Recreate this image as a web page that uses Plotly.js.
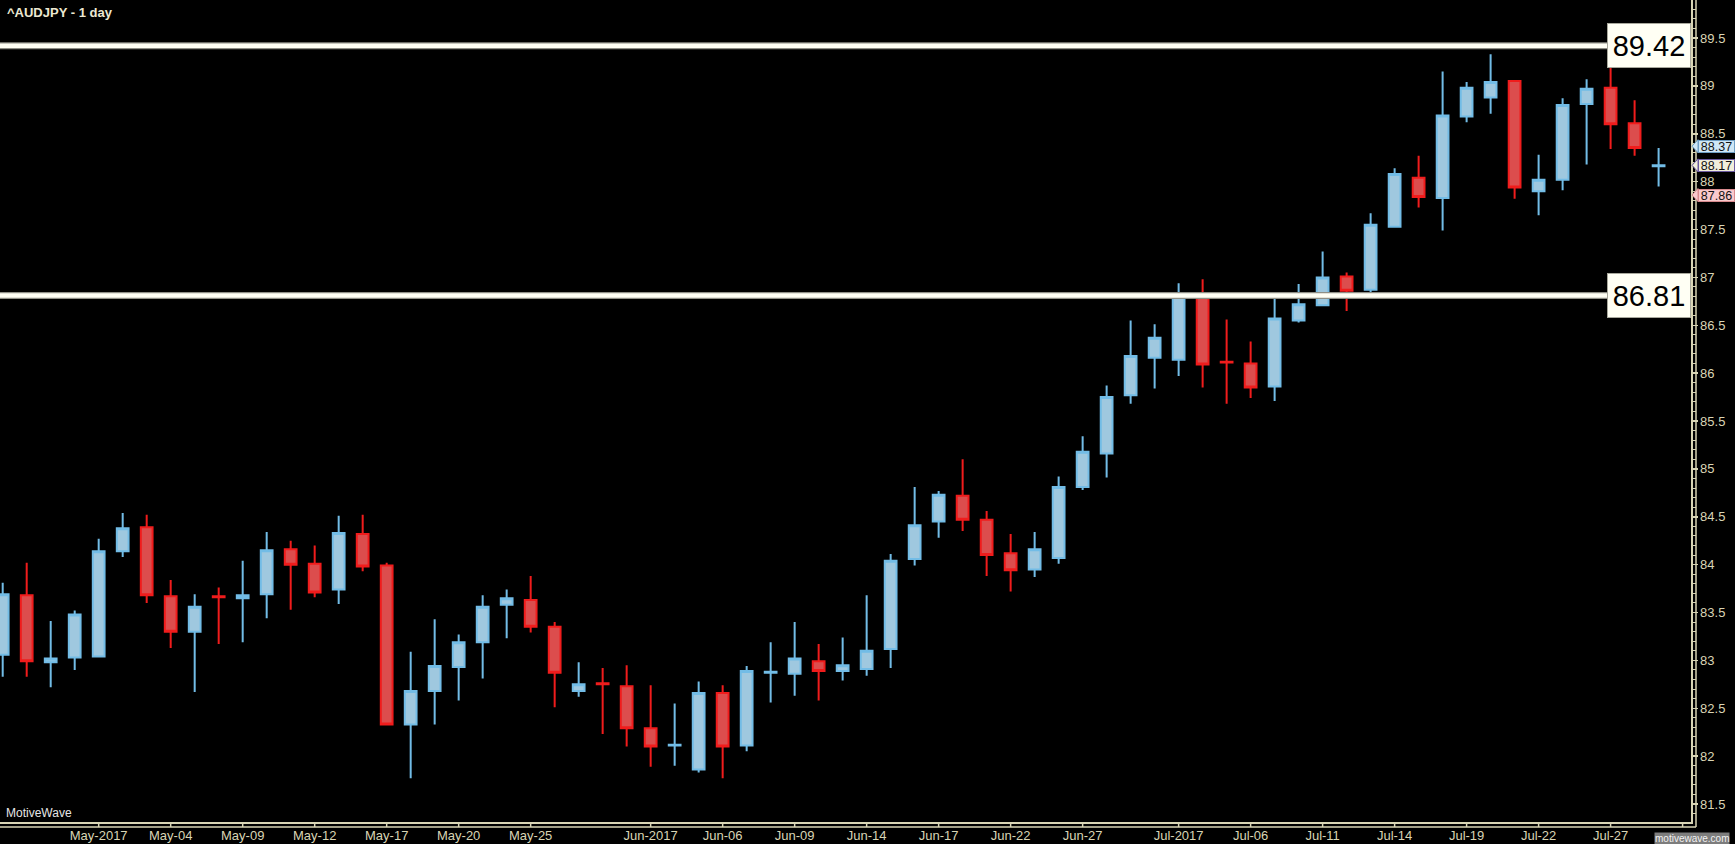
<!DOCTYPE html>
<html>
<head>
<meta charset="utf-8">
<script src="https://cdn.plot.ly/plotly-3.0.1.min.js"></script>
<style>
html,body{margin:0;padding:0;background:#000;}
#chart{width:1735px;height:844px;}
</style>
</head>
<body>
<div id="chart"></div>
<script>
// ---- data ----
const openPrices  = [83.06,83.68,82.98,83.03,83.04,84.14,84.39,83.67,83.30,83.67,83.65,83.69,84.16,84.01,83.74,84.32,83.99,82.33,82.68,82.93,83.19,83.58,83.63,83.35,82.68,82.76,82.73,82.29,82.11,81.86,82.66,82.11,82.87,82.86,82.99,82.89,82.91,83.12,84.06,84.45,84.72,84.47,84.12,83.95,84.07,84.81,85.16,85.77,86.16,86.14,86.82,86.12,86.10,85.86,86.55,86.71,87.01,86.87,87.53,88.04,87.83,88.68,88.88,89.05,87.90,88.02,88.81,88.98,88.61,88.16];
const highPrices  = [83.81,84.02,83.41,83.52,84.27,84.54,84.52,83.84,83.69,83.76,84.04,84.34,84.25,84.20,84.51,84.52,84.02,83.09,83.43,83.27,83.68,83.74,83.88,83.40,82.98,82.92,82.95,82.74,82.55,82.78,82.74,82.94,83.19,83.40,83.17,83.24,83.68,84.11,84.81,84.77,85.10,84.56,84.32,84.34,84.92,85.34,85.87,86.55,86.51,86.94,86.98,86.56,86.33,86.78,86.93,87.27,87.05,87.67,88.14,88.27,89.15,89.04,89.33,89.05,88.28,88.87,89.07,89.21,88.85,88.35];
const lowPrices   = [82.83,82.83,82.72,82.90,83.03,84.08,83.60,83.13,82.67,83.17,83.19,83.44,83.53,83.66,83.59,83.93,82.33,81.77,82.33,82.58,82.81,83.23,83.29,82.51,82.62,82.23,82.10,81.89,81.90,81.83,81.77,82.05,82.56,82.63,82.58,82.79,82.84,82.92,83.99,84.28,84.35,83.88,83.72,83.87,84.01,84.78,84.91,85.68,85.84,85.97,85.85,85.68,85.74,85.71,86.53,86.70,86.65,86.84,87.53,87.73,87.49,88.62,88.71,87.82,87.65,87.91,88.18,88.34,88.27,87.95];
const closePrices = [83.69,82.99,83.02,83.48,84.14,84.38,83.68,83.30,83.56,83.66,83.68,84.15,84.00,83.71,84.33,83.98,82.33,82.68,82.94,83.19,83.56,83.65,83.35,82.87,82.75,82.75,82.29,82.10,82.12,82.66,82.10,82.89,82.88,83.02,82.89,82.95,83.10,84.04,84.41,84.73,84.47,84.10,83.94,84.16,84.81,85.18,85.75,86.18,86.37,86.83,86.09,86.11,85.85,86.57,86.72,87.00,86.86,87.55,88.08,87.84,88.69,88.98,89.04,87.94,88.02,88.80,88.97,88.60,88.35,88.17];

const tickBars   = [4,7,10,13,16,19,22,27,30,33,36,39,42,45,49,52,55,58,61,64,67,70];
const tickLabels = ["May-2017","May-04","May-09","May-12","May-17","May-20","May-25","Jun-2017","Jun-06","Jun-09","Jun-14","Jun-17","Jun-22","Jun-27","Jul-2017","Jul-06","Jul-11","Jul-14","Jul-19","Jul-22","Jul-27",""];

const levelLines  = [89.42, 86.81];
const levelLabels = ["89.42", "86.81"];

const markerPrices = [88.37, 88.17, 87.86];
const markerLabels = ["88.37", "88.17", "87.86"];

const chartTitle = "^AUDJPY - 1 day";

// ---- layout constants ----
const W = 1735, H = 844;
const mR = 44, mB = 22;
const plotW = W - mR, plotH = H - mB;
const yRange = [81.312, 89.897];
const xRange = [-0.1125, 70.35];
const axisCol = '#d9d5b5';
const FONT = 'Liberation Sans, Arial, sans-serif';
const px = v => v / plotW;          // px offset -> paper x
const py = v => v / plotH;          // px offset -> paper y
const yPerPx = (yRange[1] - yRange[0]) / plotH;

const barIndex = openPrices.map((_, i) => i);

const trace = {
  type: 'candlestick',
  x: barIndex,
  open: openPrices, high: highPrices, low: lowPrices, close: closePrices,
  increasing: {fillcolor: '#9fc8df', line: {color: '#72bce6', width: 2}},
  decreasing: {fillcolor: '#dc4d4d', line: {color: '#f01c1c', width: 2}},
  whiskerwidth: 0,
  hoverinfo: 'skip',
  showlegend: false
};

const shapes = [];
levelLines.forEach(v => {
  shapes.push({type: 'line', xref: 'paper', yref: 'y', x0: 0, x1: 1, y0: v, y1: v,
               line: {color: '#8f8f86', width: 7}, layer: 'above'});
  shapes.push({type: 'line', xref: 'paper', yref: 'y', x0: 0, x1: 1, y0: v, y1: v,
               line: {color: '#fffff4', width: 4.5}, layer: 'above'});
});
// outer axis frame lines
shapes.push({type: 'line', xref: 'paper', yref: 'paper', x0: 1 + px(5), x1: 1 + px(5), y0: 1, y1: -py(5),
             line: {color: axisCol, width: 1.5}});
shapes.push({type: 'line', xref: 'paper', yref: 'paper', x0: 0, x1: 1 + px(5), y0: -py(5), y1: -py(5),
             line: {color: axisCol, width: 1.5}});
// x tick marks bridging the two bottom lines
tickBars.forEach(b => {
  shapes.push({type: 'line', xref: 'x', yref: 'paper', x0: b, x1: b, y0: 0, y1: -py(5),
               line: {color: axisCol, width: 1.5}});
});

const annotations = [];
levelLines.forEach((v, i) => {
  annotations.push({xref: 'paper', yref: 'y', x: 1, y: v, xanchor: 'right', yanchor: 'middle',
    text: levelLabels[i], showarrow: false,
    font: {family: FONT, size: 29, color: '#000'},
    bgcolor: '#fffff4', bordercolor: '#a8a89c', borderwidth: 1, borderpad: 3, width: 76, height: 37});
});
const markerStyles = [
  {bg: '#cfe7f6', border: '#6f9fc4'},
  {bg: '#f1eedb', border: '#6b5aa0'},
  {bg: '#f9c9cc', border: '#d88a8e'}
];
markerPrices.forEach((v, i) => {
  // arrow tip pointing at the axis
  shapes.push({type: 'path', xref: 'paper', yref: 'y', layer: 'above',
    path: `M ${1 + px(1)},${v} L ${1 + px(7)},${v + 6.5 * yPerPx} L ${1 + px(7)},${v - 6.5 * yPerPx} Z`,
    fillcolor: markerStyles[i].bg, line: {color: markerStyles[i].border, width: 1}});
  annotations.push({xref: 'paper', yref: 'y', x: 1 + px(6.5), y: v, xanchor: 'left', yanchor: 'middle',
    text: markerLabels[i], showarrow: false,
    font: {family: FONT, size: 12.5, color: '#111'},
    bgcolor: markerStyles[i].bg, bordercolor: markerStyles[i].border, borderwidth: 1, borderpad: 0,
    width: 35, height: 11});
});
annotations.push({xref: 'paper', yref: 'paper', x: px(4), y: py(9), xanchor: 'left', yanchor: 'middle',
  text: 'MotiveWave', showarrow: false,
  font: {family: FONT, size: 12, color: '#e6e6e6'}});
annotations.push({xref: 'paper', yref: 'paper', x: 1 + px(39), y: -py(16.5), xanchor: 'right', yanchor: 'middle',
  text: 'motivewave.com', showarrow: false,
  font: {family: FONT, size: 10, color: '#f2f2f2'},
  bgcolor: '#7d7d7d', borderpad: 0});

const layout = {
  width: W, height: H,
  paper_bgcolor: '#000', plot_bgcolor: '#000',
  margin: {l: 0, r: mR, t: 0, b: mB, pad: 0},
  showlegend: false,
  title: {text: chartTitle, x: 7 / W, xanchor: 'left', y: 1 - 12.5 / H, yanchor: 'middle',
          font: {family: FONT, size: 13, color: '#ece8d2', weight: 'bold'}},
  xaxis: {
    range: xRange, fixedrange: true,
    rangeslider: {visible: false},
    tickmode: 'array', tickvals: tickBars, ticktext: tickLabels,
    ticks: 'outside', ticklen: 1, tickcolor: axisCol, tickwidth: 1.5,
    showline: true, linecolor: axisCol, linewidth: 1.5,
    showgrid: false, zeroline: false,
    tickfont: {family: FONT, size: 13, color: axisCol}
  },
  yaxis: {
    side: 'right',
    range: yRange, fixedrange: true,
    tick0: 0, dtick: 0.5,
    ticks: 'outside', ticklen: 5, tickcolor: axisCol, tickwidth: 1.5,
    minor: {dtick: 0.1, ticks: 'outside', ticklen: 3.5, tickcolor: axisCol, tickwidth: 1, showgrid: false},
    showline: true, linecolor: axisCol, linewidth: 1.5,
    showgrid: false, zeroline: false,
    tickfont: {family: FONT, size: 13, color: axisCol}
  },
  shapes: shapes,
  annotations: annotations
};

Plotly.newPlot('chart', [trace], layout, {displayModeBar: false, staticPlot: true});
</script>
</body>
</html>
